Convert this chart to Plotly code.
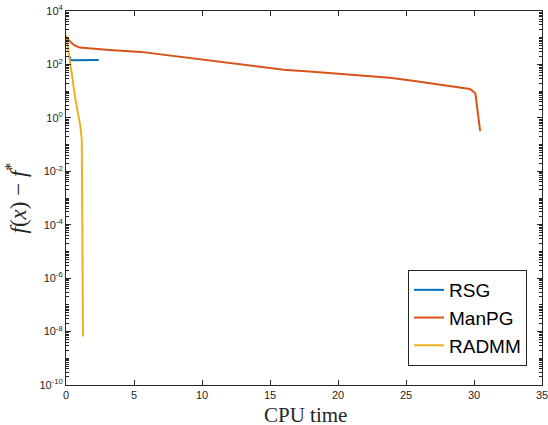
import plotly.graph_objects as go

# RSG
rsg_t = [0.28, 0.32, 0.40, 0.7, 1.0, 1.5, 2.0, 2.4]
rsg_f = [200, 150, 142, 143, 144, 145, 146, 147]

# ManPG
manpg_t = [0.05, 0.3, 0.6, 1.0, 1.9, 3.2, 5.5, 7.6, 11.3, 15.0, 16.0, 17.9, 23.8, 25.5, 27.5, 29.7, 30.1, 30.2, 30.35, 30.45]
manpg_f = [955, 708, 525, 427, 390, 347, 295, 214, 126, 71, 63, 54, 32, 24.5, 17, 12, 8.3, 2.6, 0.83, 0.32]

# RADMM
radmm_t = [0.0, 0.18, 0.42, 0.66, 0.91, 1.06, 1.16, 1.18, 1.2, 1.22, 1.25]
radmm_f = [1260, 347, 47, 6.2, 1.1, 0.47, 0.15, 0.002, 1e-4, 1e-6, 6.5e-9]

x_ticks = [0, 5, 10, 15, 20, 25, 30, 35]
y_exponents = [-10, -8, -6, -4, -2, 0, 2, 4]
y_ticks = [10.0 ** e for e in y_exponents]
y_ticktext = ["10<sup>%d</sup>" % e for e in y_exponents]

colors = ["#0072BD", "#D95319", "#EDB120"]

fig = go.Figure()
fig.add_trace(go.Scatter(x=rsg_t, y=rsg_f, mode="lines", name="RSG",
                         line=dict(color=colors[0], width=2)))
fig.add_trace(go.Scatter(x=manpg_t, y=manpg_f, mode="lines", name="ManPG",
                         line=dict(color=colors[1], width=2)))
fig.add_trace(go.Scatter(x=radmm_t, y=radmm_f, mode="lines", name="RADMM",
                         line=dict(color=colors[2], width=2)))

axis_common = dict(showline=True, linecolor="#262626", linewidth=1, mirror="ticks",
                   ticks="inside", tickcolor="#262626", showgrid=False, zeroline=False,
                   automargin=False, ticklabeloverflow="allow",
                   tickfont=dict(family="Liberation Sans, Arial", size=11, color="#262626"))

fig.update_layout(
    width=548, height=425,
    margin=dict(l=66, r=6, t=11, b=40),
    paper_bgcolor="white", plot_bgcolor="white",
    xaxis=dict(range=[0, 35], tickvals=x_ticks, ticklen=5, **axis_common),
    yaxis=dict(type="log", range=[-10, 4], tickvals=y_ticks, ticktext=y_ticktext, ticklen=5,
               minor=dict(ticks="inside", ticklen=3, tickcolor="#262626", dtick="D1", showgrid=False),
               **axis_common),
    legend=dict(x=0.9685, y=0.0508, xanchor="right", yanchor="bottom",
                bgcolor="white", bordercolor="#262626", borderwidth=1,
                font=dict(family="Liberation Sans, Arial", size=19, color="#000000"),
                tracegroupgap=0, itemwidth=30),
    showlegend=True,
    annotations=[
        dict(text="CPU time", xref="paper", yref="paper", x=0.503, y=-0.049,
             xanchor="center", yanchor="top", showarrow=False, height=21, borderpad=0,
             font=dict(family="Liberation Serif, Times New Roman", size=21, color="#262626")),
        dict(text="<i>f</i>(<i>x</i>) − <i>f</i><sup>*</sup>", xref="paper", yref="paper",
             x=-0.104, y=0.5, xanchor="center", yanchor="middle", textangle=-90, showarrow=False,
             font=dict(family="Liberation Serif, Times New Roman", size=23, color="#262626")),
    ],
)

fig.write_html("out.html", config={"displayModeBar": False},
               post_script="document.body.style.margin='0';document.body.style.overflow='hidden';")
